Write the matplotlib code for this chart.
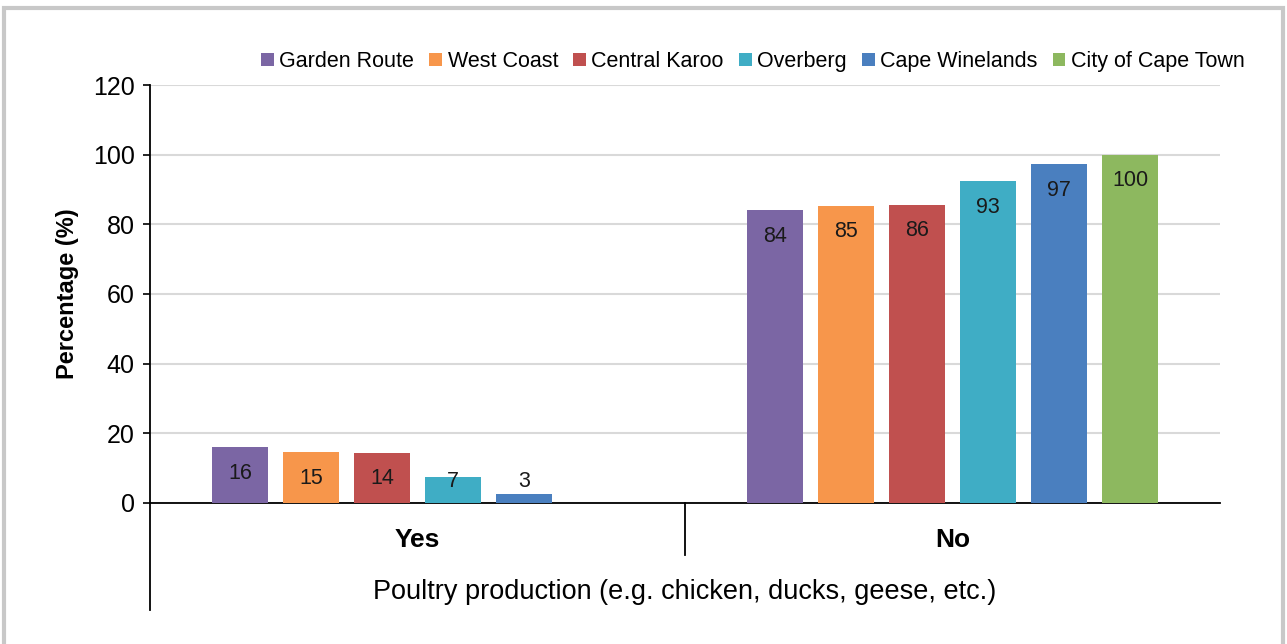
import matplotlib.pyplot as plt
import numpy as np
from matplotlib.patches import Rectangle

plt.rcParams["font.family"] = ["Liberation Sans", "DejaVu Sans"]

categories = ["Yes", "No"]
districts = ["Garden Route", "West Coast", "Central Karoo", "Overberg",
             "Cape Winelands", "City of Cape Town"]
yes_vals = [16.1, 14.6, 14.4, 7.5, 2.6, 0]
no_vals = [84.1, 85.3, 85.6, 92.4, 97.3, 100]
yes_labels = ["16", "15", "14", "7", "3", None]
no_labels = ["84", "85", "86", "93", "97", "100"]
colors = ["#7B66A4", "#F7964B", "#C0504F", "#3FADC5", "#4A7FBF", "#8DB85F"]

fig = plt.figure(figsize=(12.87, 6.44), dpi=100)
ax = fig.add_axes([0.1166, 0.219, 0.8314, 0.649])

# grey frame around the whole chart
fig.patches.append(Rectangle((0.003, -0.02), 0.994, 1.007, transform=fig.transFigure,
                             fill=False, edgecolor="#c8c8c8", linewidth=3))

x = np.arange(len(categories))
slot = 0.1327
width = 0.1047
for i, name in enumerate(districts):
    offs = (i - 2.5) * slot
    vals = [yes_vals[i], no_vals[i]]
    labs = [yes_labels[i], no_labels[i]]
    ax.bar(x + offs, vals, width, color=colors[i], label=name, zorder=3)
    for xi, v, lab in zip(x + offs, vals, labs):
        if lab is None:
            continue
        ax.text(xi, max(v - 7.5, 6.3), lab, ha="center", va="center",
                fontsize=15.5, color="#1a1a1a", zorder=4)

ax.set_xlim(-0.5, 1.5)
ax.set_ylim(0, 120)
ax.set_yticks(range(0, 121, 20))
ax.tick_params(axis="y", labelsize=18, length=5, width=1.2, pad=6, direction="out")
ax.set_xticks([])
ax.yaxis.grid(True, color="#d9d9d9", linewidth=1.5, zorder=0)
ax.set_axisbelow(True)
for s in ["top", "right"]:
    ax.spines[s].set_visible(False)
ax.spines["left"].set_linewidth(1.3)
ax.spines["bottom"].set_linewidth(1.3)
ax.set_ylabel("Percentage (%)", fontsize=17, fontweight="bold", labelpad=10)

# two-level category axis
ax.plot([0, 0], [0, -0.256], transform=ax.transAxes, color="black",
        linewidth=1.3, clip_on=False)
ax.plot([0.5, 0.5], [0, -0.124], transform=ax.get_xaxis_transform(),
        color="black", linewidth=1.3, clip_on=False)
for xi, c in zip(x, categories):
    ax.text(xi, -0.088, c, transform=ax.get_xaxis_transform(), ha="center",
            va="center", fontsize=19, fontweight="bold")
ax.text(0.5, -0.213, "Poultry production (e.g. chicken, ducks, geese, etc.)",
        transform=ax.get_xaxis_transform(), ha="center", va="center", fontsize=19.5)

ax.legend(loc="lower right", bbox_to_anchor=(1.035, 1.0), ncol=6, frameon=False,
          fontsize=15.5, handlelength=0.6, handleheight=0.6, handletextpad=0.25,
          columnspacing=0.7, borderaxespad=0.2)

fig.savefig("out.png", dpi=100)
